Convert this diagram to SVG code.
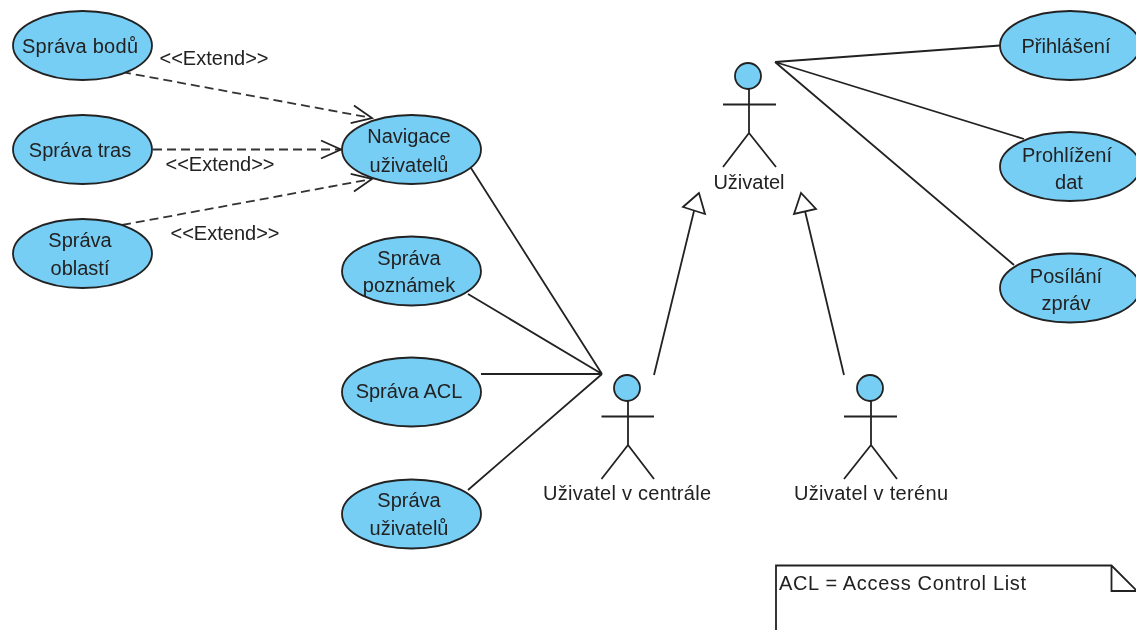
<svg xmlns="http://www.w3.org/2000/svg" width="1136" height="630" viewBox="0 0 1136 630">
<style>
text{font-family:"Liberation Sans",Arial,sans-serif;font-size:20px;fill:#222;text-anchor:middle;filter:url(#soft)}
.uc{fill:#77cef5;stroke:#222;stroke-width:1.8}
.ln{fill:none;stroke:#222;stroke-width:1.8}
.dash{fill:none;stroke:#333;stroke-width:1.8;stroke-dasharray:9 5;marker-end:url(#open)}
.tri{fill:#fff;stroke:#222;stroke-width:1.8}
</style>
<defs>
<filter id="soft" x="-5%" y="-20%" width="110%" height="140%"><feGaussianBlur stdDeviation="0.35"/></filter>
<marker id="open" markerUnits="userSpaceOnUse" markerWidth="24" markerHeight="26" refX="22" refY="13" orient="auto" overflow="visible"><path d="M2,4 L22,13 L2,22" fill="none" stroke="#222" stroke-width="1.8"/></marker>
</defs>
<rect width="1136" height="630" fill="#fff"/>
<g id="connectors">
<path class="dash" d="M122,72 L372,118"/>
<path class="dash" d="M153,149.5 L341,149.5"/>
<path class="dash" d="M122,225 L372,179"/>
<path class="ln" d="M471,168 L602,374 M468,294 L602,374 M481,374 L602,374 M468,490 L602,374"/>
<path class="ln" d="M775,62 L1000,45.5 M775,62 L1024,139 M775,62 L1014,265"/>
<path class="ln" d="M654,375 L694,211 M844,375 L805,211"/>
<polygon class="tri" points="699,193 683,207 705,214"/>
<polygon class="tri" points="801,193 794,214 816,209"/>
</g>
<text x="214" y="65">&lt;&lt;Extend&gt;&gt;</text>
<text x="220" y="171">&lt;&lt;Extend&gt;&gt;</text>
<text x="225" y="240">&lt;&lt;Extend&gt;&gt;</text>
<g id="sprava-bodu"><ellipse class="uc" cx="82.5" cy="45.5" rx="69.5" ry="34.5"/><text x="80" y="53" textLength="116">Správa bodů</text></g>
<g id="sprava-tras"><ellipse class="uc" cx="82.5" cy="149.5" rx="69.5" ry="34.5"/><text x="80" y="157">Správa tras</text></g>
<g id="sprava-oblasti"><ellipse class="uc" cx="82.5" cy="253.5" rx="69.5" ry="34.5"/><text x="80" y="247">Správa</text><text x="80" y="275">oblastí</text></g>
<g id="navigace"><ellipse class="uc" cx="411.5" cy="149.5" rx="69.5" ry="34.5"/><text x="409" y="143">Navigace</text><text x="409" y="172">uživatelů</text></g>
<g id="sprava-poznamek"><ellipse class="uc" cx="411.5" cy="271" rx="69.5" ry="34.5"/><text x="409" y="265">Správa</text><text x="409" y="292">poznámek</text></g>
<g id="sprava-acl"><ellipse class="uc" cx="411.5" cy="392" rx="69.5" ry="34.5"/><text x="409" y="398">Správa ACL</text></g>
<g id="sprava-uzivatelu"><ellipse class="uc" cx="411.5" cy="514" rx="69.5" ry="34.5"/><text x="409" y="507">Správa</text><text x="409" y="535">uživatelů</text></g>
<g id="prihlaseni"><ellipse class="uc" cx="1070" cy="45.5" rx="70" ry="34.5"/><text x="1066" y="53">Přihlášení</text></g>
<g id="prohlizeni"><ellipse class="uc" cx="1070" cy="166.5" rx="70" ry="34.5"/><text x="1067" y="162">Prohlížení</text><text x="1069" y="189">dat</text></g>
<g id="posilani"><ellipse class="uc" cx="1070" cy="288" rx="70" ry="34.5"/><text x="1066" y="283">Posílání</text><text x="1066" y="310">zpráv</text></g>
<g id="uzivatel"><circle class="uc" cx="748" cy="76" r="13"/><path class="ln" d="M723,104.5 H776 M749,89 V133 L723,167 M749,133 L776,167"/><text x="749" y="189">Uživatel</text></g>
<g id="uzivatel-centrala"><circle class="uc" cx="627" cy="388" r="13"/><path class="ln" d="M601.5,416.5 H654 M628,401 V445 L601.5,479 M628,445 L654,479"/><text x="627" y="500" textLength="168">Uživatel v centrále</text></g>
<g id="uzivatel-teren"><circle class="uc" cx="870" cy="388" r="13"/><path class="ln" d="M844,416.5 H897 M871,401 V445 L844,479 M871,445 L897,479"/><text x="871" y="500" textLength="154">Uživatel v terénu</text></g>
<g id="note"><path class="ln" d="M776,631 V565.5 H1111.5 L1137,591 H1111.5 V565.5"/><text x="779" y="590" textLength="247" style="text-anchor:start">ACL = Access Control List</text></g>
</svg>
